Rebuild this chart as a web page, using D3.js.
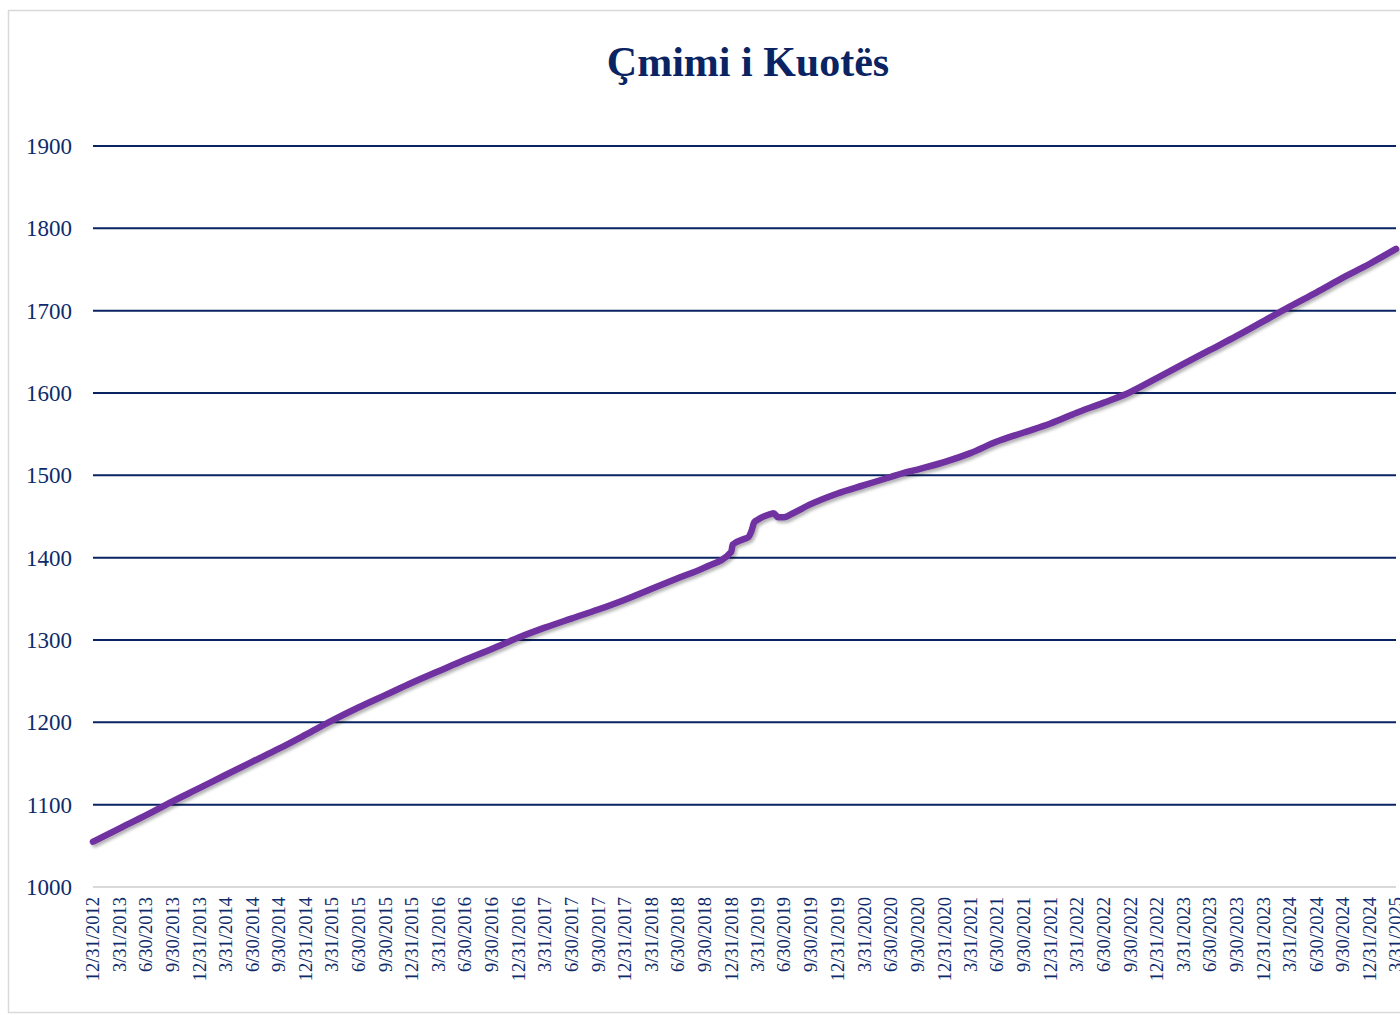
<!DOCTYPE html>
<html>
<meta charset="utf-8">
<head>
<title>Çmimi i Kuotës</title>
<script src="https://cdnjs.cloudflare.com/ajax/libs/d3/7.8.5/d3.min.js"></script>
<style>
    body { margin: 0; background: #fff; }
</style>
</head>

<body>
<script>

const width = 1400,
    height = 1015;

// Quarter-end labels on the x axis
const tickLabels = [
    "12/31/2012", "3/31/2013", "6/30/2013", "9/30/2013",
    "12/31/2013", "3/31/2014", "6/30/2014", "9/30/2014",
    "12/31/2014", "3/31/2015", "6/30/2015", "9/30/2015",
    "12/31/2015", "3/31/2016", "6/30/2016", "9/30/2016",
    "12/31/2016", "3/31/2017", "6/30/2017", "9/30/2017",
    "12/31/2017", "3/31/2018", "6/30/2018", "9/30/2018",
    "12/31/2018", "3/31/2019", "6/30/2019", "9/30/2019",
    "12/31/2019", "3/31/2020", "6/30/2020", "9/30/2020",
    "12/31/2020", "3/31/2021", "6/30/2021", "9/30/2021",
    "12/31/2021", "3/31/2022", "6/30/2022", "9/30/2022",
    "12/31/2022", "3/31/2023", "6/30/2023", "9/30/2023",
    "12/31/2023", "3/31/2024", "6/30/2024", "9/30/2024",
    "12/31/2024", "3/31/2025"
];

// Price series, dates and values
const priceDates = [
    "12/31/2012", "3/31/2013", "6/30/2013", "9/30/2013",
    "12/31/2013", "3/31/2014", "6/30/2014", "9/30/2014",
    "12/31/2014", "3/31/2015", "6/30/2015", "9/30/2015",
    "12/31/2015", "3/31/2016", "6/30/2016", "9/30/2016",
    "12/31/2016", "3/31/2017", "6/30/2017", "9/30/2017",
    "12/31/2017", "3/31/2018", "6/30/2018", "9/30/2018",
    "12/31/2018", "1/5/2019", "2/15/2019", "2/28/2019",
    "3/10/2019", "3/20/2019", "3/31/2019", "5/15/2019",
    "5/25/2019", "6/10/2019", "6/30/2019", "7/31/2019",
    "9/30/2019", "12/31/2019", "3/31/2020", "6/30/2020",
    "8/15/2020", "9/30/2020", "12/31/2020", "3/31/2021",
    "6/30/2021", "9/30/2021", "12/31/2021", "3/31/2022",
    "6/30/2022", "9/30/2022", "12/31/2022", "3/31/2023",
    "6/30/2023", "9/30/2023", "12/31/2023", "3/31/2024",
    "6/30/2024", "9/30/2024", "12/31/2024", "3/31/2025"
];
const priceValues = [
    1055, 1071, 1087, 1104,
    1120, 1136, 1152, 1168,
    1185, 1202, 1218, 1233,
    1248, 1262, 1276, 1289,
    1303, 1315, 1326, 1337,
    1349, 1362, 1375, 1388,
    1407, 1416, 1423, 1425,
    1432, 1443, 1446, 1453,
    1454, 1449, 1449, 1454,
    1465, 1478, 1488, 1498,
    1503, 1507, 1516, 1527,
    1541, 1552, 1563, 1576,
    1588, 1601, 1618, 1635,
    1652, 1669, 1687, 1705,
    1722, 1740, 1757, 1775
];

const yTicks = [1000, 1100, 1200, 1300, 1400, 1500, 1600, 1700, 1800, 1900];

const parseDate = d3.timeParse("%m/%d/%Y");
const data = priceDates.map((d, i) => ({ date: parseDate(d), value: priceValues[i] }));

const navy = "#0a2463";
const textColour = "#0d2b6b";
const serif = "'Liberation Serif', 'Times New Roman', serif";

const svg = d3.select("body")
    .append("svg")
    .attr("width", width)
    .attr("height", height);

// Chart frame
svg.append("rect")
    .attr("x", 8.5)
    .attr("y", 10.5)
    .attr("width", 1400)
    .attr("height", 1002)
    .attr("fill", "#fff")
    .attr("stroke", "#d9d9d9")
    .attr("stroke-width", 1.5);

const x = d3.scaleTime()
    .domain([parseDate(tickLabels[0]), parseDate(tickLabels[tickLabels.length - 1])])
    .range([93, 1396]);

const y = d3.scaleLinear()
    .domain([1000, 1900])
    .range([887, 146]);

// Shadow for the line
const defs = svg.append("defs");
const shadow = defs.append("filter")
    .attr("id", "shadow")
    .attr("x", "-5%").attr("y", "-5%")
    .attr("width", "110%").attr("height", "110%");
shadow.append("feDropShadow")
    .attr("dx", 2)
    .attr("dy", 2.5)
    .attr("stdDeviation", 1.5)
    .attr("flood-color", "#000")
    .attr("flood-opacity", 0.3);

// Horizontal gridlines
svg.append("g")
    .selectAll("line")
    .data(yTicks)
    .join("line")
    .attr("x1", x.range()[0])
    .attr("x2", x.range()[1])
    .attr("y1", d => y(d))
    .attr("y2", d => y(d))
    .attr("stroke", d => d === 1000 ? "#d9d9d9" : navy)
    .attr("stroke-width", 2);

// Y axis labels
svg.append("g")
    .selectAll("text")
    .data(yTicks)
    .join("text")
    .attr("x", 72)
    .attr("y", d => y(d))
    .attr("dy", "0.35em")
    .attr("text-anchor", "end")
    .attr("font-family", serif)
    .attr("font-size", "23px")
    .attr("fill", textColour)
    .text(d => d);

// X axis labels (rotated)
svg.append("g")
    .selectAll("text")
    .data(tickLabels)
    .join("text")
    .attr("transform", d => `translate(${x(parseDate(d))},897) rotate(-90)`)
    .attr("dy", "0.35em")
    .attr("text-anchor", "end")
    .attr("font-family", serif)
    .attr("font-size", "18.5px")
    .attr("fill", textColour)
    .text(d => d);

// Price line
const line = d3.line()
    .x(d => x(d.date))
    .y(d => y(d.value))
    .curve(d3.curveMonotoneX);

svg.append("path")
    .datum(data)
    .attr("d", line)
    .attr("fill", "none")
    .attr("stroke", "#7030a0")
    .attr("stroke-width", 6.5)
    .attr("stroke-linejoin", "round")
    .attr("stroke-linecap", "round")
    .attr("filter", "url(#shadow)");

// Title
svg.append("text")
    .attr("x", 748)
    .attr("y", 76)
    .attr("text-anchor", "middle")
    .attr("font-family", serif)
    .attr("font-weight", "bold")
    .attr("font-size", "42px")
    .attr("fill", "#0a2463")
    .text("Çmimi i Kuotës");

</script>

</body>
</html>
